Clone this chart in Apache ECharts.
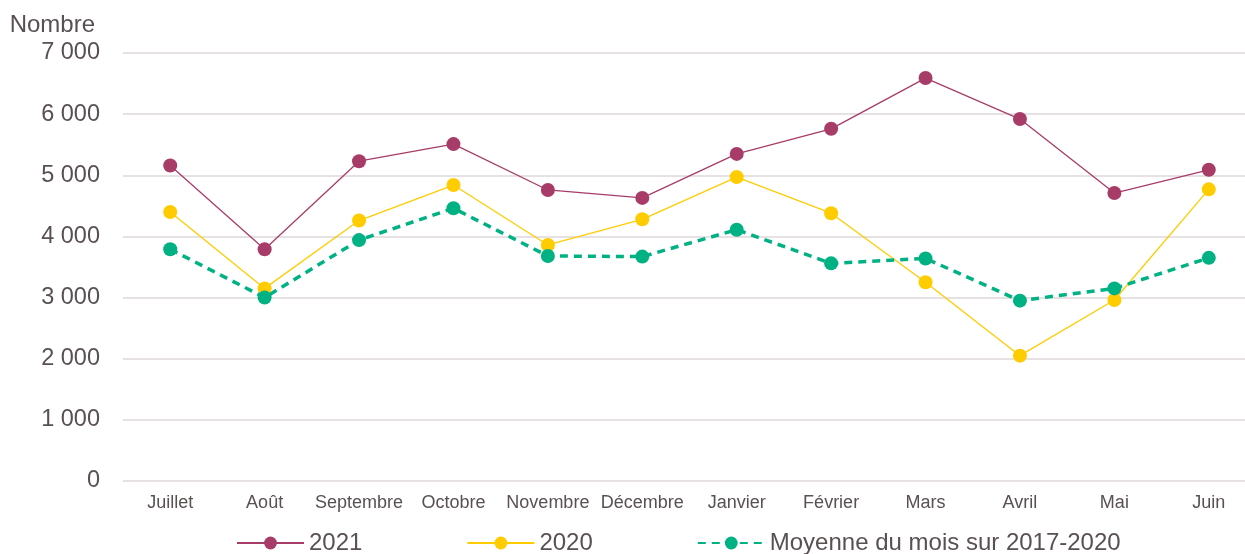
<!DOCTYPE html>
<html>
<head>
<meta charset="utf-8">
<script src="https://cdn.jsdelivr.net/npm/echarts@6/dist/echarts.min.js"></script>
<style>
html,body{margin:0;padding:0;background:#fff;overflow:hidden;}
#chart{width:1262px;height:554px;}
</style>
</head>
<body>
<div id="chart"></div>
<script>
// mois (juillet -> juin)
var mois = ['Juillet','Août','Septembre','Octobre','Novembre','Décembre','Janvier','Février','Mars','Avril','Mai','Juin'];
var serie2021 = [5160, 3790, 5230, 5510, 4760, 4630, 5350, 5760, 6590, 5920, 4710, 5090];
var serie2020 = [4400, 3150, 4260, 4840, 3860, 4280, 4970, 4380, 3250, 2050, 2960, 4770];
var moyenne = [3790, 3000, 3940, 4460, 3680, 3670, 4110, 3560, 3640, 2950, 3150, 3650];
var nomsSeries = ['2021', '2020', 'Moyenne du mois sur 2017-2020'];

var texte = '#595151';
var chart = echarts.init(document.getElementById('chart'));

// format "7 000"
function milliers(v){
    return String(v).replace(/\B(?=(\d{3})+(?!\d))/g, ' ');
}

var option = {
    animation: false,
    textStyle: {fontFamily: 'Liberation Sans, Arial, sans-serif'},
    grid: {
        left: 123,
        width: 1133,
        top: 53,
        bottom: 73
    },
    legend: {
        left: 236,
        top: 531,
        padding: 0,
        itemWidth: 67,
        itemHeight: 16,
        itemGap: 104,
        textStyle: {fontSize: 24, color: texte},
        data: nomsSeries
    },
    xAxis: {
        type: 'category',
        data: mois,
        boundaryGap: true,
        axisLine: {show: false},
        axisTick: {show: false},
        axisLabel: {
            interval: 0,
            fontSize: 18,
            color: texte,
            margin: 13
        }
    },
    yAxis: {
        type: 'value',
        name: 'Nombre',
        nameLocation: 'end',
        nameGap: 16,
        nameTextStyle: {fontSize: 24, color: texte, align: 'right', padding: [0, 28, 0, 0]},
        min: 0,
        max: 7000,
        interval: 1000,
        axisLabel: {
            fontSize: 23.5,
            color: texte,
            margin: 23,
            formatter: milliers
        },
        splitLine: {lineStyle: {color: '#E6E1E3', width: 2}}
    },
    series: [
        {
            name: nomsSeries[0],
            type: 'line',
            data: serie2021,
            symbol: 'circle',
            symbolSize: 14,
            color: '#A83C69',
            lineStyle: {width: 1.3, color: '#A83C69'}
        },
        {
            name: nomsSeries[1],
            type: 'line',
            data: serie2020,
            symbol: 'circle',
            symbolSize: 14,
            color: '#FFCC00',
            lineStyle: {width: 1.3, color: '#FFCC00'}
        },
        {
            name: nomsSeries[2],
            type: 'line',
            data: moyenne,
            symbol: 'circle',
            symbolSize: 14,
            color: '#00B184',
            lineStyle: {width: 3.5, color: '#00B184', type: [8, 6]}
        }
    ]
};

chart.setOption(option);
</script>
</body>
</html>
